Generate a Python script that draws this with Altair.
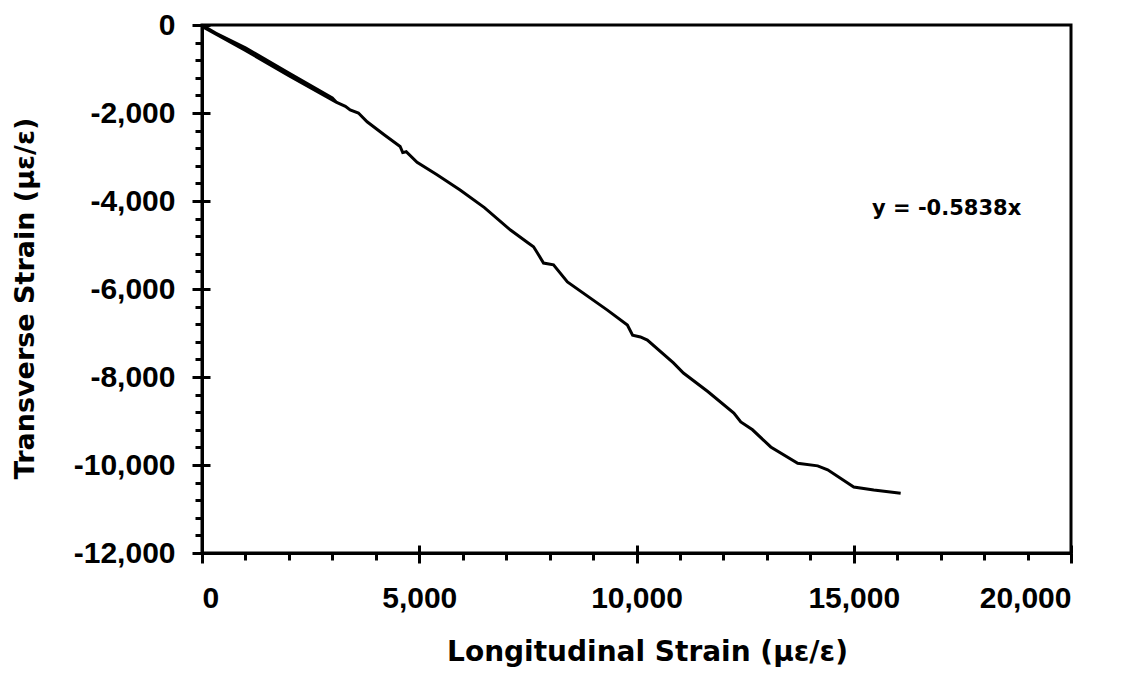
import altair as alt
import pandas as pd

# longitudinal strain (x) and transverse strain (y)
long_strain = [0, 1000, 2000, 3100, 3000, 2000, 1000, 0, 1000, 2000, 3100,
               3300, 3410, 3600, 3800, 4200, 4560, 4620, 4700, 4950, 5400,
               5940, 6500, 7100, 7500, 7630, 7720, 7860, 8090, 8410, 9330,
               9790, 9910, 10090, 10250, 10850, 11080, 11640, 12240, 12400,
               12670, 13090, 13710, 14170, 14400, 14860, 15000, 15460, 16080]
trans_strain = [0, -580, -1150, -1760, -1660, -1090, -520, -30, -580, -1150, -1760,
                -1850, -1930, -2000, -2200, -2500, -2760, -2900, -2880, -3120, -3400,
                -3750, -4150, -4660, -4950, -5040, -5180, -5410, -5450, -5840, -6480,
                -6820, -7050, -7090, -7160, -7680, -7910, -8330, -8820, -9020,
                -9200, -9590, -9960, -10020, -10110, -10410, -10500, -10570, -10640]

x_major = [0, 5000, 10000, 15000, 20000]
x_minor = list(range(0, 20001, 1000))
y_major = [0, -2000, -4000, -6000, -8000, -10000, -12000]
y_minor = list(range(0, -12001, -400))

eq_label = ["y = -0.5838x"]
eq_x = [15420]
eq_y = [-4180]

df = pd.DataFrame({"x": long_strain, "y": trans_strain, "i": range(len(long_strain))})
ann = pd.DataFrame({"x": eq_x, "y": eq_y, "t": eq_label})

LFONT = "Liberation Sans"
TFONT = "DejaVu Sans"
lab_expr = "datum.value == 0 ? '0' : (datum.value < 0 ? '-' : '') + format(abs(datum.value), ',')"

W, H = 869, 528
xs = alt.Scale(domain=[0, 20000], nice=False, zero=False)
ys = alt.Scale(domain=[-12000, 0], nice=False, zero=False)

base = alt.Chart(df)

# outside minor ticks
minor = base.mark_line(strokeOpacity=0).encode(
    x=alt.X("x:Q", scale=xs, axis=alt.Axis(values=x_minor, labels=False, title=None,
            tickSize=7, tickWidth=3, tickColor="black", domain=False, grid=False, orient="bottom")),
    y=alt.Y("y:Q", scale=ys, axis=alt.Axis(values=y_minor, labels=False, title=None,
            tickSize=7, tickWidth=3, tickColor="black", domain=False, grid=False, orient="left")),
    order="i:Q",
)

# inner half of the major ticks (axes moved onto the opposite edge)
inner = base.mark_line(strokeOpacity=0).encode(
    x=alt.X("x:Q", scale=xs, axis=alt.Axis(values=x_major, labels=False, title=None,
            tickSize=8, tickWidth=3, tickColor="black", domain=False, grid=False,
            orient="top", offset=-H)),
    y=alt.Y("y:Q", scale=ys, axis=alt.Axis(values=y_major, labels=False, title=None,
            tickSize=8, tickWidth=3, tickColor="black", domain=False, grid=False,
            orient="right", offset=-W)),
    order="i:Q",
)

major = base.mark_line(strokeWidth=3, color="black").encode(
    x=alt.X("x:Q", scale=xs, axis=alt.Axis(values=x_major, labelExpr=lab_expr,
            title="Longitudinal Strain (\u03bc\u03b5/\u03b5)", tickSize=10, tickWidth=3,
            tickColor="black", domainColor="black", domainWidth=3, grid=False,
            labelFont=LFONT, labelFontSize=30, labelFontWeight="bold", labelColor="black",
            labelPadding=20, titleFont=TFONT, titleFontSize=28, titleFontWeight="bold",
            titleColor="black", titlePadding=25, titleX=445, orient="bottom")),
    y=alt.Y("y:Q", scale=ys, axis=alt.Axis(values=y_major, labelExpr=lab_expr,
            title="Transverse Strain (\u03bc\u03b5/\u03b5)", tickSize=10, tickWidth=3,
            tickColor="black", domainColor="black", domainWidth=3, grid=False,
            labelFont=LFONT, labelFontSize=30, labelFontWeight="bold", labelColor="black",
            labelPadding=17, titleFont=TFONT, titleFontSize=27, titleFontWeight="bold",
            titleColor="black", titlePadding=34, titleY=273, orient="left")),
    order="i:Q",
)

text = alt.Chart(ann).mark_text(align="left", baseline="middle", font=TFONT,
                                fontSize=21, fontWeight="bold", color="black").encode(
    x=alt.X("x:Q", scale=xs, axis=None), y=alt.Y("y:Q", scale=ys, axis=None), text="t:N")

chart = alt.layer(minor, inner, major, text).resolve_axis(x="independent", y="independent").properties(
    width=W, height=H,
    background="white",
    autosize=alt.AutoSizeParams(type="none"),
    padding={"left": 194, "top": 17, "right": 40, "bottom": 120},
).configure_view(stroke="black", strokeWidth=3)

chart.save("out.html", embed_options={"renderer": "svg", "actions": False})
